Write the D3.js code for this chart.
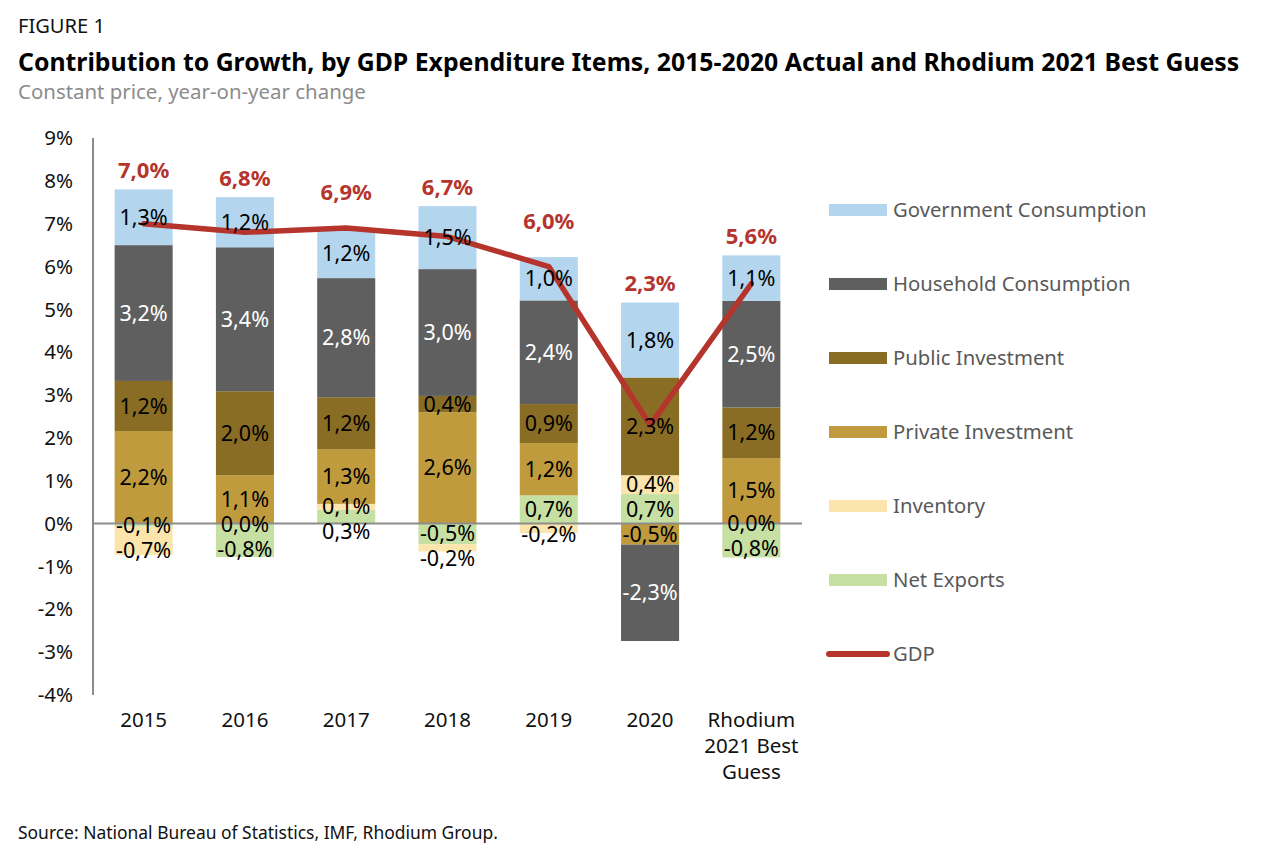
<!DOCTYPE html>
<html><head><meta charset="utf-8">
<script src="https://cdn.jsdelivr.net/npm/d3@7"></script>
<style>
html,body{margin:0;padding:0;background:#fff;}
svg{display:block;font-family:"Noto Sans","Open Sans",sans-serif;}
</style></head>
<body><svg id="chart" width="1284" height="866"></svg>
<script>
// ---------- data ----------
const categories = ["2015","2016","2017","2018","2019","2020","Rhodium 2021 Best Guess"];
const categoryLines = [["2015"],["2016"],["2017"],["2018"],["2019"],["2020"],["Rhodium","2021 Best","Guess"]];
const netExports   = [-0.07, -0.78, 0.32, -0.48, 0.66, 0.69, -0.79];
const inventory    = [-0.66,  0.00, 0.14, -0.17, -0.22, 0.44, 0.00];
const privateInv   = [ 2.16,  1.13, 1.28,  2.60, 1.22, -0.49, 1.53];
const publicInv    = [ 1.17,  1.96, 1.21,  0.38, 0.91, 2.28, 1.18];
const householdCon = [ 3.17,  3.36, 2.78,  2.96, 2.42, -2.25, 2.49];
const governmentCon= [ 1.30,  1.17, 1.16,  1.47, 1.01, 1.75, 1.06];
const gdp          = [ 7.0, 6.8, 6.9, 6.7, 6.0, 2.3, 5.6];
const yTicks = [9,8,7,6,5,4,3,2,1,0,-1,-2,-3,-4];

const seriesNames = ["Net Exports","Inventory","Private Investment","Public Investment","Household Consumption","Government Consumption"];
const seriesValues = [netExports, inventory, privateInv, publicInv, householdCon, governmentCon];
const seriesColors = ["#c6e0a3","#fbe5ad","#bf9b3e","#8a6d24","#5f5f5f","#b3d5ee"];
const labelColors  = ["#000","#000","#000","#000","#fff","#000"];
const gdpColor = "#b5352d";

// ---------- layout ----------
const svg = d3.select("#chart");
const plot = {left:93, right:802, top:138, bottom:695};
const fmt = v => d3.format(".1f")(v).replace(".", ",").replace("\u2212", "-") + "%";

const x = d3.scaleBand().domain(categories).range([plot.left, plot.right]).paddingInner(0.427).paddingOuter(0.2135);
const y = d3.scaleLinear().domain([-4, 9]).range([plot.bottom, plot.top]);

// titles
function fitText(sel, target){
  const n = sel.node(); const w = n.getComputedTextLength();
  const fs = parseFloat(sel.attr("font-size"));
  sel.attr("font-size", fs*target/w);
}
fitText(svg.append("text").attr("x",18).attr("y",33).attr("font-size",20).attr("fill","#111").text("FIGURE 1"), 87);
fitText(svg.append("text").attr("x",18).attr("y",71).attr("font-size",26).attr("font-weight","bold").attr("fill","#000")
  .text("Contribution to Growth, by GDP Expenditure Items, 2015-2020 Actual and Rhodium 2021 Best Guess"), 1222);
fitText(svg.append("text").attr("x",18).attr("y",99).attr("font-size",20).attr("fill","#8c8c8c").text("Constant price, year-on-year change"), 348);
fitText(svg.append("text").attr("x",18).attr("y",839).attr("font-size",17).attr("fill","#111").text("Source: National Bureau of Statistics, IMF, Rhodium Group."), 480);

// y tick labels
svg.append("g").selectAll("text").data(yTicks).join("text")
  .attr("x", 73).attr("y", d => y(d)).attr("dy","0.35em").attr("text-anchor","end")
  .attr("font-size",20.5).attr("fill","#111").text(d => d + "%");

// stacked data
const table = categories.map((c,i) => {
  const o = {cat:c};
  seriesNames.forEach((s,k) => o[s] = seriesValues[k][i]);
  return o;
});
const stack = d3.stack().keys(seriesNames).offset(d3.stackOffsetDiverging)(table);

const gBars = svg.append("g");
stack.forEach((layer,k) => {
  gBars.append("g").attr("fill", seriesColors[k]).selectAll("rect").data(layer).join("rect")
    .attr("x", d => x(d.data.cat)).attr("width", x.bandwidth())
    .attr("y", d => y(Math.max(d[0],d[1]))).attr("height", d => Math.abs(y(d[0]) - y(d[1])));
});

// axes lines
svg.append("line").attr("x1",plot.left).attr("x2",plot.left).attr("y1",plot.top).attr("y2",plot.bottom)
  .attr("stroke","#8c8c8c").attr("stroke-width",2);
svg.append("line").attr("x1",plot.left).attr("x2",plot.right).attr("y1",y(0)).attr("y2",y(0))
  .attr("stroke","#8c8c8c").attr("stroke-width",2);

// x labels
const gx = svg.append("g");
categories.forEach((c,i) => {
  categoryLines[i].forEach((ln,j) => {
    gx.append("text").attr("x", x(c) + x.bandwidth()/2).attr("y", 720 + j*26).attr("dy","0.35em")
      .attr("text-anchor","middle").attr("font-size",20.5).attr("fill","#111").text(ln);
  });
});

// GDP line
const line = d3.line().x((d,i) => x(categories[i]) + x.bandwidth()/2).y(d => y(d));
svg.append("path").datum(gdp).attr("d", line).attr("fill","none").attr("stroke",gdpColor)
  .attr("stroke-width",5.5).attr("stroke-linejoin","round").attr("stroke-linecap","round");

// segment labels (centered, small overlaps pushed down)
const gLab = svg.append("g").attr("font-size",21.5);
categories.forEach((c,i) => {
  const labs = stack.map((layer,k) => ({k, v: seriesValues[k][i], cy: y((layer[i][0]+layer[i][1])/2)}));
  labs.sort((a,b) => a.cy - b.cy);
  for (let j=1;j<labs.length;j++) if (labs[j].cy - labs[j-1].cy < 25) labs[j].cy = labs[j-1].cy + 25;
  labs.forEach(l => {
    gLab.append("text").attr("x", x(c) + x.bandwidth()/2).attr("y", l.cy).attr("dy","0.35em")
      .attr("text-anchor","middle").attr("fill", labelColors[l.k]).text(fmt(l.v));
  });
});

// GDP labels
categories.forEach((c,i) => {
  const top = y(d3.sum(seriesValues, s => Math.max(0, s[i])));
  const ly = y(gdp[i]);
  let yy = Math.min(top, ly) - 19;
  if (Math.abs(ly - top) < 15) yy -= 17;
  svg.append("text").attr("x", x(c) + x.bandwidth()/2).attr("y", yy).attr("dy","0.35em")
    .attr("text-anchor","middle").attr("font-size",22).attr("font-weight","bold").attr("fill",gdpColor)
    .text(fmt(gdp[i]));
});

// legend
const legendItems = seriesNames.slice().reverse().map((n) => ({name:n, color: seriesColors[seriesNames.indexOf(n)]}));
legendItems.push({name:"GDP", color:gdpColor, line:true});
const gL = svg.append("g");
legendItems.forEach((it,i) => {
  const cy = 210 + i*74;
  if (it.line) {
    gL.append("line").attr("x1",829).attr("x2",887).attr("y1",cy).attr("y2",cy)
      .attr("stroke",it.color).attr("stroke-width",6).attr("stroke-linecap","round");
  } else {
    gL.append("rect").attr("x",829).attr("y",cy-6).attr("width",58).attr("height",12).attr("fill",it.color);
  }
  gL.append("text").attr("x",893).attr("y",cy).attr("dy","0.35em").attr("font-size",20.3).attr("fill","#595959").text(it.name);
});
</script></body></html>
